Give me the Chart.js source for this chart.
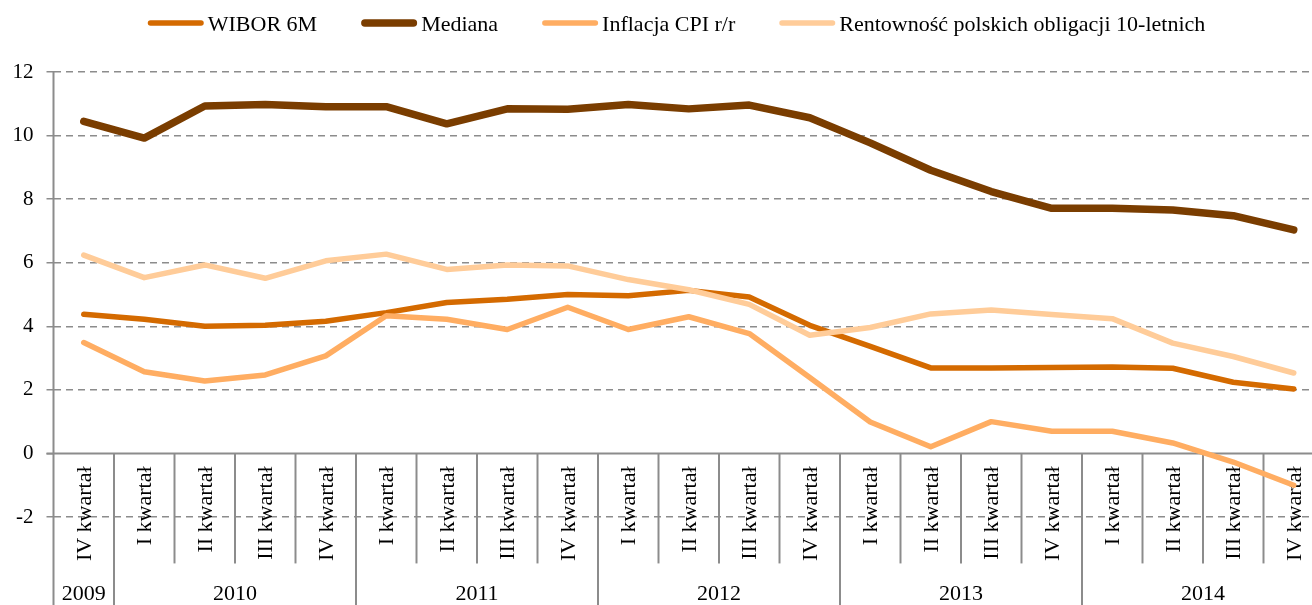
<!DOCTYPE html>
<html><head><meta charset="utf-8">
<script src="https://cdn.jsdelivr.net/npm/chart.js@4.4.1/dist/chart.umd.min.js"></script>
<style>
html,body{margin:0;padding:0;background:#fff;overflow:hidden}
#wrap{width:1312px;height:605px;overflow:hidden;position:relative}
canvas{display:block}
</style></head>
<body><div id="wrap"><canvas id="c" width="1324" height="605"></canvas></div>
<script>
const quarterLabels = ['IV kwartał',
  'I kwartał','II kwartał','III kwartał','IV kwartał',
  'I kwartał','II kwartał','III kwartał','IV kwartał',
  'I kwartał','II kwartał','III kwartał','IV kwartał',
  'I kwartał','II kwartał','III kwartał','IV kwartał',
  'I kwartał','II kwartał','III kwartał','IV kwartał'];
const yearOfQuarter = ['2009',
  '2010','2010','2010','2010',
  '2011','2011','2011','2011',
  '2012','2012','2012','2012',
  '2013','2013','2013','2013',
  '2014','2014','2014','2014'];
const wibor6m     = [4.38, 4.22, 4.00, 4.03, 4.16, 4.43, 4.75, 4.85, 5.00, 4.96, 5.13, 4.92, 4.03, 3.37, 2.69, 2.69, 2.70, 2.72, 2.68, 2.24, 2.03];
const mediana     = [10.45, 9.92, 10.93, 10.98, 10.91, 10.91, 10.37, 10.84, 10.83, 10.98, 10.84, 10.96, 10.56, 9.77, 8.91, 8.24, 7.71, 7.71, 7.66, 7.48, 7.03];
const inflacjaCPI = [3.49, 2.57, 2.28, 2.47, 3.07, 4.33, 4.22, 3.90, 4.60, 3.90, 4.30, 3.77, 2.39, 0.99, 0.21, 1.00, 0.70, 0.70, 0.33, -0.27, -1.00];
const rentownosc  = [6.24, 5.53, 5.93, 5.51, 6.06, 6.27, 5.79, 5.93, 5.90, 5.47, 5.15, 4.69, 3.72, 3.96, 4.39, 4.51, 4.37, 4.24, 3.47, 3.05, 2.53];
const seriesNames = ['WIBOR 6M', 'Mediana', 'Inflacja CPI r/r', 'Rentowność polskich obligacji 10-letnich'];
const yMin = -2, yMax = 12, yStep = 2;

const FONT = '"Liberation Serif", "Times New Roman", serif';
const GRID = '#8c8c8c';

const tablePlugin = {
  id: 'table',
  beforeDatasetsDraw(chart) {
    const {ctx, chartArea: ca, scales: {x, y}} = chart;
    const y0 = y.getPixelForValue(0);
    ctx.save();
    ctx.strokeStyle = GRID;
    ctx.lineWidth = 2;
    ctx.beginPath(); ctx.moveTo(ca.left - 7, y0); ctx.lineTo(chart.width, y0); ctx.stroke();
    ctx.beginPath(); ctx.moveTo(ca.left, ca.top); ctx.lineTo(ca.left, chart.height); ctx.stroke();
    const n = quarterLabels.length;
    const half = (x.getPixelForValue(1) - x.getPixelForValue(0)) / 2;
    for (let i = 1; i < n; i++) {
      const bx = x.getPixelForValue(i) - half;
      const yb = yearOfQuarter[i] !== yearOfQuarter[i - 1] ? chart.height : y0 + 110;
      ctx.beginPath(); ctx.moveTo(bx, y0); ctx.lineTo(bx, yb); ctx.stroke();
    }
    ctx.fillStyle = '#000';
    ctx.font = '22px ' + FONT;
    ctx.textAlign = 'right';
    ctx.textBaseline = 'alphabetic';
    for (let i = 0; i < n; i++) {
      ctx.save();
      ctx.translate(x.getPixelForValue(i), y0 + 13);
      ctx.rotate(-Math.PI / 2);
      ctx.fillText(quarterLabels[i], 0, 7);
      ctx.restore();
    }
    ctx.textAlign = 'center';
    let start = 0;
    for (let i = 1; i <= n; i++) {
      if (i === n || yearOfQuarter[i] !== yearOfQuarter[start]) {
        const l = x.getPixelForValue(start) - half;
        const r = x.getPixelForValue(i - 1) + half;
        ctx.fillText(yearOfQuarter[start], (l + r) / 2, 600);
        start = i;
      }
    }
    ctx.restore();
  },
  afterDraw(chart) {
    const ctx = chart.ctx;
    ctx.save();
    ctx.font = '22px ' + FONT;
    const items = chart.data.datasets.map(d => ({text: d.label, color: d.borderColor, w: d.borderWidth}));
    const sample = 56, gap = 4, spacing = 44;
    let total = 0;
    items.forEach((it, i) => { it.tw = ctx.measureText(it.text).width; total += sample + gap + it.tw + (i ? spacing : 0); });
    let xx = 676.5 - total / 2;
    const ly = 23;
    items.forEach(it => {
      ctx.strokeStyle = it.color;
      ctx.lineWidth = it.w;
      ctx.lineCap = 'round';
      ctx.beginPath(); ctx.moveTo(xx + it.w / 2, ly); ctx.lineTo(xx + sample - it.w / 2, ly); ctx.stroke();
      ctx.fillStyle = '#000';
      ctx.textAlign = 'left';
      ctx.textBaseline = 'alphabetic';
      ctx.fillText(it.text, xx + sample + gap, 31);
      xx += sample + gap + it.tw + spacing;
    });
    ctx.restore();
  }
};

const mk = (label, data, color, width, order) => ({
  label, data, borderColor: color, backgroundColor: color, borderWidth: width,
  pointRadius: 0, pointHoverRadius: 0, tension: 0, fill: false,
  borderJoinStyle: 'round', borderCapStyle: 'round', order
});

new Chart(document.getElementById('c'), {
  type: 'line',
  data: {
    labels: quarterLabels,
    datasets: [
      mk(seriesNames[0], wibor6m, '#D46A00', 5.5, 3),
      mk(seriesNames[1], mediana, '#7A3D00', 7.5, 2),
      mk(seriesNames[2], inflacjaCPI, '#FFAD62', 5.5, 1),
      mk(seriesNames[3], rentownosc, '#FFCC99', 5.5, 0)
    ]
  },
  options: {
    responsive: false,
    animation: false,
    devicePixelRatio: 1,
    events: [],
    layout: {padding: {top: 72, bottom: 88, left: 0, right: 0}},
    plugins: {legend: {display: false}, tooltip: {enabled: false}, title: {display: false}},
    scales: {
      x: {type: 'category', offset: true, display: false},
      y: {
        min: yMin, max: yMax,
        afterFit: s => { s.width = 53.5; },
        ticks: {stepSize: yStep, color: '#000', font: {family: FONT, size: 21}, padding: 13},
        grid: {
          color: c => (c.tick && c.tick.value === 0) ? 'rgba(0,0,0,0)' : GRID,
          lineWidth: 1.5, tickColor: GRID, tickLength: 7, tickWidth: 1.5
        },
        border: {display: false, dash: [7, 5]}
      }
    }
  },
  plugins: [tablePlugin]
});
</script>
</body></html>
